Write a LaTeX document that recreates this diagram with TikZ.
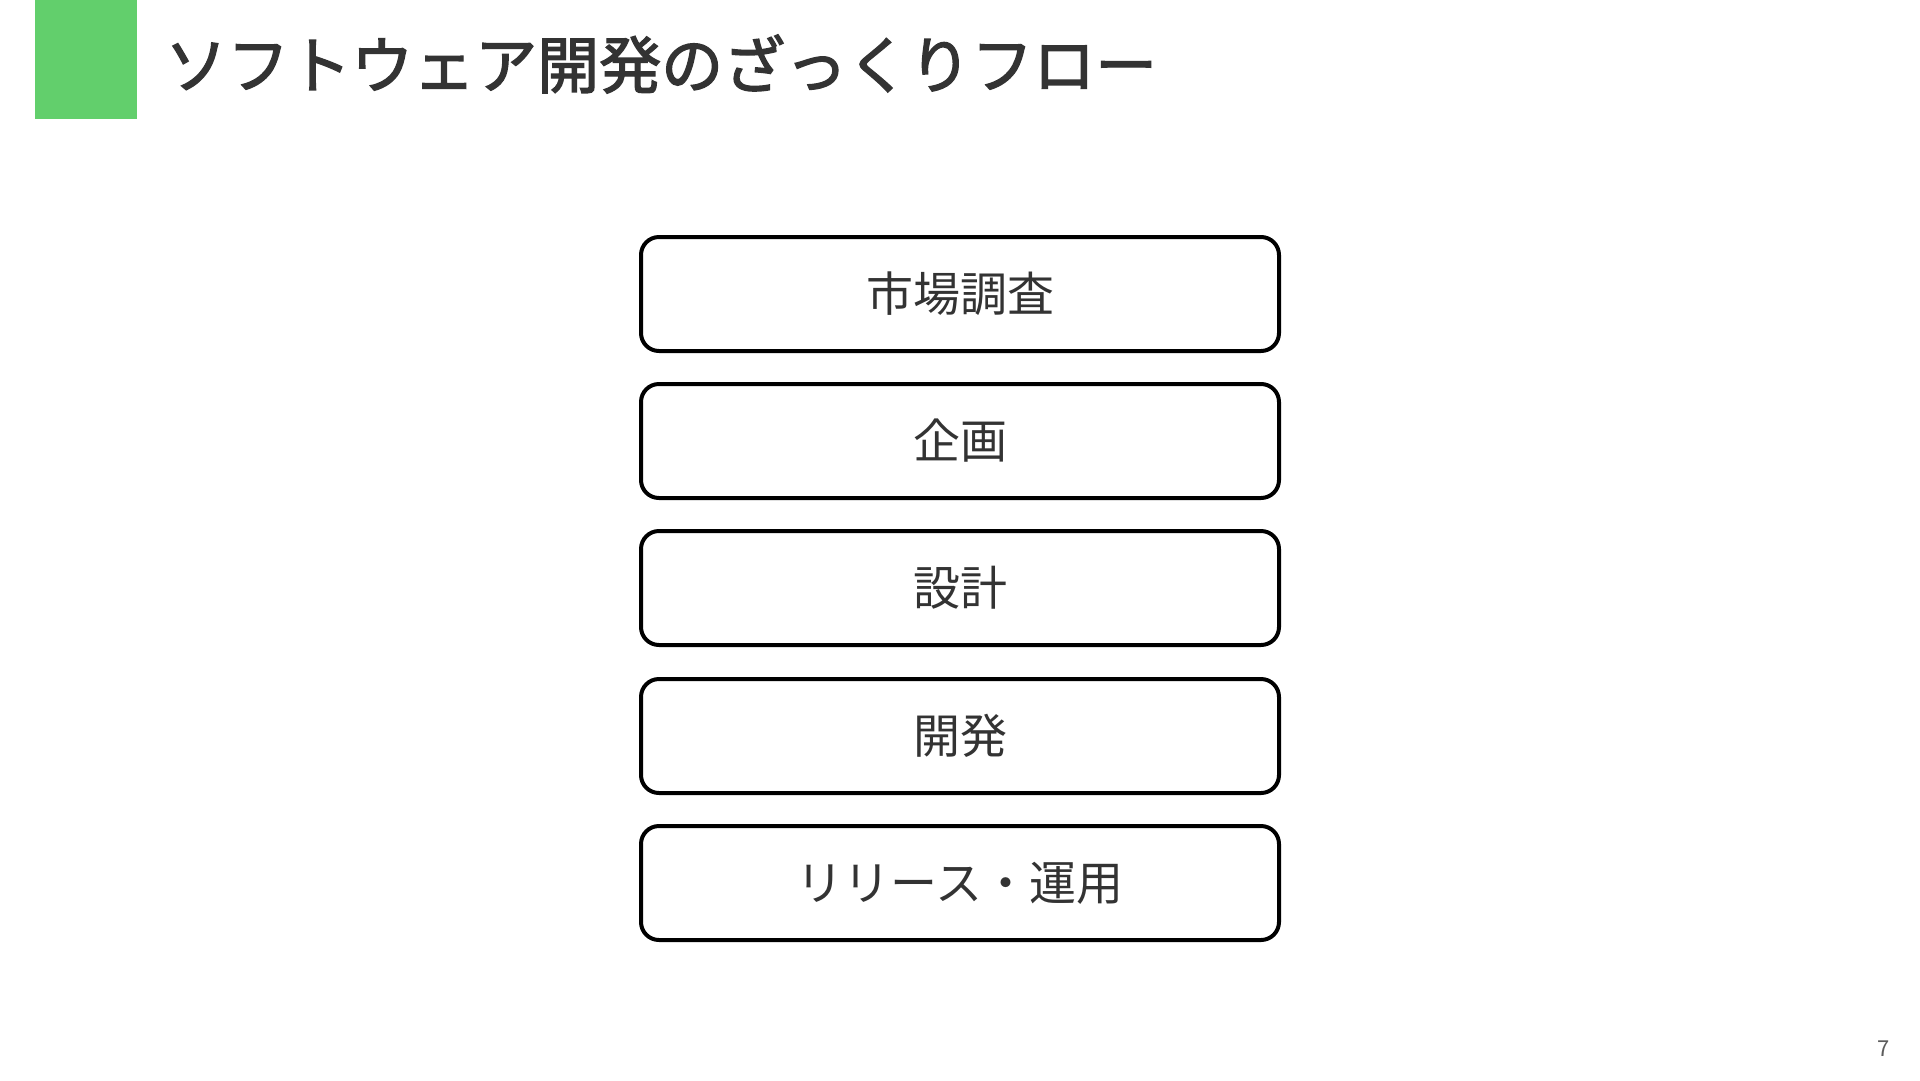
\documentclass[tikz,border=0pt]{standalone}
\usepackage{fontspec}
\setmainfont{Noto Sans CJK JP}
\newfontfamily\titlefont[FakeBold=2.2]{Noto Sans CJK JP}
\definecolor{accent}{RGB}{98,207,108}
\definecolor{ink}{RGB}{51,51,51}
\tikzset{
  stepbox/.style={draw=black, line width=4pt, rounded corners=18pt, minimum width=638pt, minimum height=114pt, fill=white, text=ink, font=\fontsize{47}{56}\selectfont, inner sep=0pt},
}
\begin{document}
\begin{tikzpicture}[x=1pt,y=-1pt]
\useasboundingbox (0,0) rectangle (1920,1080);
\fill[white] (0,0) rectangle (1920,1080);
\fill[accent] (35,0) rectangle (137,119);
\node[anchor=west, text=ink, font=\titlefont\fontsize{62}{70}\selectfont, inner sep=0pt] (title) at (165,64) {ソフトウェア開発のざっくりフロー};
\node[stepbox] (s1) at (960,294) {\raisebox{-2pt}{市場調査}};
\node[stepbox] (s2) at (960,441) {\raisebox{-2pt}{企画}};
\node[stepbox] (s3) at (960,588) {\raisebox{-2pt}{設計}};
\node[stepbox] (s4) at (960,736) {\raisebox{-2pt}{開発}};
\node[stepbox] (s5) at (960,883) {\raisebox{-2pt}{リリース・運用}};
\node[text=ink!80, font=\fontsize{22}{26}\selectfont, inner sep=0pt] (pg) at (1884,1049) {7};
\end{tikzpicture}
\end{document}
